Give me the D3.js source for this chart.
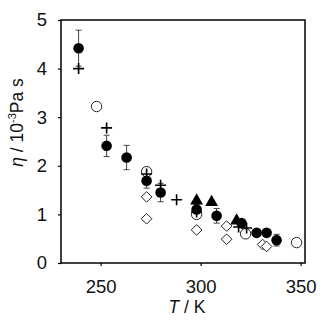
<!DOCTYPE html>
<meta charset="utf-8">
<head>
<script src="https://d3js.org/d3.v7.min.js"></script>
</head>
<style>
body { margin: 0; background: #fff; }
text { font-family: "Liberation Sans", Arial, sans-serif; }
</style>
<body>
<svg></svg>
<script>
// viscosity data
let filledT = [239, 253, 263, 273, 280, 298, 308, 320.5, 328, 333, 338];
let filledV = [4.42, 2.41, 2.17, 1.69, 1.45, 1.1, 0.97, 0.82, 0.62, 0.62, 0.47];
let filledErr = [0.37, 0.22, 0.25, 0.15, 0.19, 0.1, 0.15, 0.08, 0.06, 0.06, 0.12];

let openT = [248, 273, 298, 322.5, 348];
let openV = [3.22, 1.88, 1.0, 0.6, 0.42];

let diamondT = [273, 273, 298, 313, 313, 331, 333];
let diamondV = [1.36, 0.91, 0.68, 0.76, 0.49, 0.38, 0.34];

let triangleT = [298, 305.5, 318];
let triangleV = [1.28, 1.25, 0.87];

let plusT = [239, 253, 273, 280, 288, 298, 319, 323];
let plusV = [4.0, 2.78, 1.83, 1.6, 1.3, 1.05, 0.74, 0.72];

let xTicks = [250, 300, 350];
let yTicks = [0, 1, 2, 3, 4, 5];

let margin = {top: 20, right: 20, bottom: 64, left: 61};
let W = 325, H = 327;
let width = W - margin.left - margin.right;
let height = H - margin.top - margin.bottom;

let x = d3.scaleLinear().domain([230.2, 352.2]).range([0, width]);
let y = d3.scaleLinear().domain([0, 5]).range([height, 0]);

let svg = d3.select("svg").attr("width", W).attr("height", H)
  .append("g")
  .attr("transform", "translate(" + margin.left + "," + margin.top + ")");

// axes
let xAxis = svg.append("g")
  .attr("transform", "translate(0," + height + ")")
  .call(d3.axisBottom(x).tickValues(xTicks).tickSize(3).tickPadding(14));
let yAxis = svg.append("g")
  .call(d3.axisLeft(y).tickValues(yTicks).tickSize(3).tickPadding(11).tickFormat(d3.format("d")));
[xAxis, yAxis].forEach(a => {
  a.select(".domain").remove();
  a.selectAll("line").attr("stroke", "#000").attr("stroke-width", 1.2);
  a.selectAll("text").attr("font-size", 18.5).attr("fill", "#111")
    .style("font-family", "'Liberation Sans', Arial, sans-serif");
});

svg.append("rect")
  .attr("width", width).attr("height", height)
  .attr("fill", "none").attr("stroke", "#000").attr("stroke-width", 1.5);

// axis titles
let xt = svg.append("text")
  .attr("x", width / 2 + 4).attr("y", height + 50)
  .attr("text-anchor", "middle").attr("font-size", 17.5).attr("fill", "#111");
xt.append("tspan").attr("font-style", "italic").text("T");
xt.append("tspan").text(" / K");

let yt = svg.append("text")
  .attr("transform", "translate(-38," + (height / 2 - 19) + ") rotate(-90)")
  .attr("text-anchor", "middle").attr("font-size", 17.5).attr("fill", "#111");
yt.append("tspan").attr("font-style", "italic").text("η");
yt.append("tspan").text(" / 10");
yt.append("tspan").attr("font-size", 11).attr("dy", -7).text("-3");
yt.append("tspan").attr("dy", 7).text("Pa s");

// error bars
let eb = svg.append("g").attr("stroke", "#444").attr("stroke-width", 1);
filledT.forEach((t, i) => {
  let cx = x(t), lo = y(filledV[i] - filledErr[i]), hi = y(filledV[i] + filledErr[i]);
  eb.append("line").attr("x1", cx).attr("x2", cx).attr("y1", lo).attr("y2", hi);
  eb.append("line").attr("x1", cx - 3).attr("x2", cx + 3).attr("y1", lo).attr("y2", lo);
  eb.append("line").attr("x1", cx - 3).attr("x2", cx + 3).attr("y1", hi).attr("y2", hi);
});

// open diamonds
svg.selectAll(".dia").data(diamondT).enter().append("path")
  .attr("class", "dia")
  .attr("d", d3.symbol(d3.symbolDiamond2, 72))
  .attr("transform", (d, i) => "translate(" + x(d) + "," + y(diamondV[i]) + ")")
  .attr("fill", "#fff").attr("stroke", "#222").attr("stroke-width", 1);

// open circles
svg.selectAll(".oc").data(openT).enter().append("circle")
  .attr("class", "oc")
  .attr("cx", d => x(d)).attr("cy", (d, i) => y(openV[i])).attr("r", 5.2)
  .attr("fill", "#fff").attr("stroke", "#222").attr("stroke-width", 1);

// filled circles
svg.selectAll(".fc").data(filledT).enter().append("circle")
  .attr("class", "fc")
  .attr("cx", d => x(d)).attr("cy", (d, i) => y(filledV[i])).attr("r", 5.3)
  .attr("fill", "#000");

// triangles
svg.selectAll(".tri").data(triangleT).enter().append("path")
  .attr("class", "tri")
  .attr("d", d3.symbol(d3.symbolTriangle, 72))
  .attr("transform", (d, i) => "translate(" + x(d) + "," + y(triangleV[i]) + ")")
  .attr("fill", "#000");

// plus signs
svg.selectAll(".pl").data(plusT).enter().append("path")
  .attr("class", "pl")
  .attr("d", "M-5.5,0H5.5M0,-5.5V5.5")
  .attr("transform", (d, i) => "translate(" + x(d) + "," + y(plusV[i]) + ")")
  .attr("stroke", "#000").attr("stroke-width", 1.6).attr("fill", "none");
</script>
</body>
